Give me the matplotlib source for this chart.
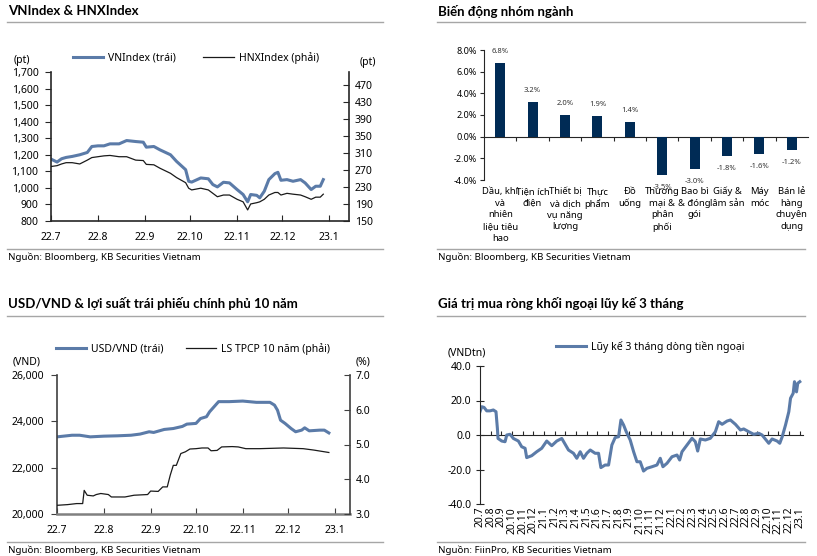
import pandas as pd
import matplotlib.pyplot as plt
from matplotlib.lines import Line2D

plt.rcParams['font.family'] = ['Noto Sans', 'DejaVu Sans']

W, H = 817, 556
BLUE = '#5b7ba8'
NAVY = '#002b55'
RULE = '#a6a6a6'

# ---- VNIndex & HNXIndex ----
idx_dates = ['2022-07-01', '2022-07-05', '2022-07-08', '2022-07-11', '2022-07-15', '2022-07-20',
             '2022-07-25', '2022-07-28', '2022-08-01', '2022-08-05', '2022-08-09', '2022-08-15',
             '2022-08-20', '2022-08-26', '2022-08-31', '2022-09-02', '2022-09-07', '2022-09-11',
             '2022-09-18', '2022-09-22', '2022-09-28', '2022-09-30', '2022-10-02', '2022-10-08',
             '2022-10-13', '2022-10-16', '2022-10-19', '2022-10-23', '2022-10-27', '2022-11-01',
             '2022-11-05', '2022-11-08', '2022-11-10', '2022-11-14', '2022-11-16', '2022-11-19',
             '2022-11-22', '2022-11-26', '2022-11-28', '2022-11-30', '2022-12-04', '2022-12-08',
             '2022-12-13', '2022-12-16', '2022-12-20', '2022-12-23', '2022-12-26', '2022-12-28']
vnindex = [1174, 1156, 1176, 1184, 1190, 1200, 1214, 1250, 1254, 1254, 1266, 1266,
           1286, 1280, 1276, 1246, 1250, 1230, 1200, 1160, 1110, 1040, 1035, 1060,
           1055, 1020, 1006, 1034, 1030, 990, 960, 916, 960, 955, 940, 980,
           1050, 1086, 1094, 1046, 1050, 1040, 1050, 1030, 990, 1010, 1010, 1050]
hnxindex = [278, 280, 284, 287, 287, 284, 293, 299, 301, 303, 304, 301,
            301, 293, 292, 283, 282, 274, 262, 252, 240, 227, 223, 227,
            223, 215, 207, 211, 211, 201, 195, 176, 190, 193, 195, 201,
            211, 217, 217, 211, 215, 213, 211, 207, 201, 206, 206, 213]
month_ticks = ['2022-07-01', '2022-08-01', '2022-09-01', '2022-10-01',
               '2022-11-01', '2022-12-01', '2023-01-01']
month_labels = ['22.7', '22.8', '22.9', '22.10', '22.11', '22.12', '23.1']

# ---- sector performance ----
sectors = ['Dầu, khí\nvà\nnhiên\nliệu tiêu\nhao', 'Tiện ích\nđiện', 'Thiết bị\nvà dịch\nvụ năng\nlượng',
           'Thực\nphẩm', 'Đồ\nuống', 'Thương\nmại &\nphân\nphối', 'Bao bì\n& đóng\ngói',
           'Giấy &\nlâm sản', 'Máy\nmóc', 'Bán lẻ\nhàng\nchuyên\ndụng']
sector_chg = [6.8, 3.2, 2.0, 1.9, 1.4, -3.5, -3.0, -1.8, -1.6, -1.2]

# ---- USD/VND & 10y bond yield ----
fx_dates = ['2022-07-01', '2022-07-11', '2022-07-16', '2022-07-23', '2022-08-01', '2022-08-10',
            '2022-08-19', '2022-08-25', '2022-08-31', '2022-09-03', '2022-09-10', '2022-09-16',
            '2022-09-22', '2022-09-25', '2022-10-01', '2022-10-04', '2022-10-08', '2022-10-10',
            '2022-10-13', '2022-10-16', '2022-10-23', '2022-11-01', '2022-11-10', '2022-11-19',
            '2022-11-22', '2022-11-24', '2022-11-26', '2022-11-29', '2022-12-03', '2022-12-06',
            '2022-12-10', '2022-12-12', '2022-12-15', '2022-12-22', '2022-12-25', '2022-12-28']
usdvnd = [23330, 23400, 23400, 23330, 23360, 23375, 23400, 23450, 23550, 23520, 23650, 23690,
          23780, 23880, 23910, 24120, 24200, 24410, 24630, 24850, 24850, 24875, 24820, 24820,
          24700, 24480, 24050, 23910, 23690, 23550, 23620, 23720, 23590, 23620, 23620, 23500]
bond_dates = ['2022-07-01', '2022-07-08', '2022-07-14', '2022-07-18', '2022-07-19', '2022-07-21',
              '2022-07-25', '2022-07-27', '2022-07-30', '2022-08-04', '2022-08-06', '2022-08-15',
              '2022-08-21', '2022-08-30', '2022-09-01', '2022-09-06', '2022-09-09', '2022-09-12',
              '2022-09-14', '2022-09-16', '2022-09-18', '2022-09-21', '2022-09-24', '2022-09-27',
              '2022-10-01', '2022-10-05', '2022-10-09', '2022-10-11', '2022-10-15', '2022-10-18',
              '2022-10-25', '2022-10-29', '2022-11-03', '2022-11-12', '2022-11-28', '2022-12-11',
              '2022-12-18', '2022-12-28']
bond10y = [3.25, 3.27, 3.30, 3.30, 3.68, 3.54, 3.52, 3.56, 3.59, 3.56, 3.49, 3.49,
           3.54, 3.56, 3.66, 3.65, 3.78, 3.78, 4.12, 4.40, 4.40, 4.74, 4.79, 4.87,
           4.88, 4.90, 4.90, 4.82, 4.83, 4.93, 4.94, 4.93, 4.88, 4.88, 4.90, 4.88,
           4.84, 4.77]

# ---- foreign net buying, 3-month rolling (months since 2020.7) ----
flow_month = [0, 0.16, 0.38, 0.63, 0.94, 1.25, 1.50, 1.63, 1.69, 2.04,
              2.35, 2.51, 2.82, 3.13, 3.60, 3.91, 4.23, 4.38, 4.85, 5.32,
              5.79, 6.26, 6.73, 7.20, 7.67, 7.99, 8.30, 8.77, 9.08, 9.40,
              9.71, 10.02, 10.34, 10.80, 11.12, 11.34, 11.74, 12.06, 12.37, 12.68,
              13.00, 13.22, 13.47, 13.72, 14.09, 14.41, 14.72, 15.03, 15.34, 15.66,
              16.13, 16.60, 16.91, 17.16, 17.54, 18.01, 18.48, 18.73, 18.95, 19.42,
              19.89, 20.20, 20.42, 20.67, 21.14, 21.61, 22.08, 22.39, 22.71, 23.18,
              23.49, 23.96, 24.43, 24.74, 25.21, 25.68, 26.15, 26.46, 27.09, 27.40,
              27.87, 28.12, 28.35, 28.66, 28.97, 29.13, 29.38, 29.50, 29.69, 29.81,
              30.00]
flow_3m = [13.5, 16.4, 16, 14, 14, 14.5, 13.5, 3.9, -2, -3.5,
           -3.9, 0, 0.4, -2, -3.5, -6.8, -7.7, -13.1, -12, -9.7,
           -7.7, -3.5, -6.2, -3.5, -2, -5.4, -8.7, -10.6, -13.5, -9.7,
           -13.5, -10.6, -8.7, -10.6, -10.6, -18.9, -17.4, -17.4, -5.8, -1.5,
           -1, 8.7, 5.8, 1.9, -2.9, -9.7, -15.5, -15.5, -20.9, -19.3,
           -18.4, -17.4, -13.5, -18.4, -16.4, -12.6, -11.6, -14.5, -9.7, -5.8,
           -1.9, -3.9, -9.3, -2.3, -2.9, -1.9, 1.9, 7.7, 6.2, 8.1,
           8.7, 6.2, 2.9, 3.5, 1.9, 0.4, 1, 0, -4.8, -2.3,
           -3.5, -4.8, -1, 5.8, 13.5, 21.3, 24.2, 30.9, 25, 30,
           30.9]
flow_labels = ['20.7', '20.8', '20.9', '20.10', '20.11', '20.12', '21.1', '21.2', '21.3', '21.4',
               '21.5', '21.6', '21.7', '21.8', '21.9', '21.10', '21.11', '21.12', '22.1', '22.2',
               '22.3', '22.4', '22.5', '22.6', '22.7', '22.8', '22.9', '22.10', '22.11', '22.12',
               '23.1']

fig = plt.figure(figsize=(W / 100, H / 100), dpi=100)


def box(l, t, r, b):
    return [l / W, 1 - b / H, (r - l) / W, (b - t) / H]


def fx(x):
    return x / W


def fy(y):
    return 1 - y / H


def frame(x0, x1, y_title, title, y_rule, y_src, source):
    fig.text(fx(x0 + 1), fy(y_title), title, fontsize=9.5, fontweight='bold', va='center',
             family=['Lato', 'DejaVu Sans'])
    fig.add_artist(Line2D([fx(x0), fx(x1)], [fy(y_rule)] * 2, color=RULE, lw=1))
    fig.add_artist(Line2D([fx(x0), fx(x1)], [fy(y_src)] * 2, color=RULE, lw=1))
    fig.text(fx(x0 + 1), fy(y_src + 8), source, fontsize=7, va='center')


def legend(handles, labels, x, y, gap):
    fig.legend(handles, labels, loc='center left', bbox_to_anchor=(fx(x), fy(y)), ncol=len(handles),
               frameon=False, fontsize=7.5, handlelength=2.9, handletextpad=0.5,
               columnspacing=gap, borderpad=0, borderaxespad=0)


frame(7, 383, 11, 'VNIndex & HNXIndex', 22, 249, 'Nguồn: Bloomberg, KB Securities Vietnam')
frame(437, 805, 11, 'Biến động nhóm ngành', 22, 249, 'Nguồn: Bloomberg, KB Securities Vietnam')
frame(7, 383, 303, 'USD/VND & lợi suất trái phiếu chính phủ 10 năm', 316, 542,
      'Nguồn: Bloomberg, KB Securities Vietnam')
frame(437, 805, 303, 'Giá trị mua ròng khối ngoại lũy kế 3 tháng', 316, 542,
      'Nguồn: FiinPro, KB Securities Vietnam')


def style_dual(ax, ax2, color):
    for a in (ax, ax2):
        for s in a.spines.values():
            s.set_visible(False)
    ax.spines['left'].set_visible(True)
    ax.spines['bottom'].set_visible(True)
    ax2.spines['right'].set_visible(True)
    for s in (ax.spines['left'], ax.spines['bottom'], ax2.spines['right']):
        s.set_color(color)
        s.set_linewidth(1.2)
    ax.tick_params(axis='y', direction='out', length=4, pad=5, labelsize=7.5, color=color)
    ax.tick_params(axis='x', direction='in', length=4, pad=8, labelsize=7.5, color=color)
    ax2.tick_params(axis='y', direction='in', length=4, pad=4, labelsize=7.5, color=color)
    ax.set_xticks(pd.to_datetime(month_ticks), month_labels)


# ---- panel 1 ----
ax = fig.add_axes(box(51, 72, 349, 221))
ax2 = ax.twinx()
ax.plot(pd.to_datetime(idx_dates), vnindex, color=BLUE, lw=2.2)
ax2.plot(pd.to_datetime(idx_dates), hnxindex, color='#1a1a1a', lw=0.9)
ax.set_xlim(pd.Timestamp('2022-07-01'), pd.Timestamp('2023-01-14'))
ax.set_ylim(800, 1700)
ax.set_yticks(range(800, 1701, 100), [f'{v:,}' for v in range(800, 1701, 100)])
ax2.set_ylim(150, 500)
ax2.set_yticks(range(150, 471, 40))
style_dual(ax, ax2, '#262626')
fig.text(fx(22), fy(61), '(pt)', fontsize=7.5, ha='center', va='center')
fig.text(fx(368), fy(62), '(pt)', fontsize=7.5, ha='center', va='center')
legend([Line2D([], [], color=BLUE, lw=2.2), Line2D([], [], color='#1a1a1a', lw=0.9)],
       ['VNIndex (trái)', 'HNXIndex (phải)'], 73, 58, 2.6)

# ---- panel 2 ----
ax = fig.add_axes(box(484, 50, 808, 180))
ax.bar(range(len(sectors)), sector_chg, width=0.31, color=NAVY)
for i, v in enumerate(sector_chg):
    ax.annotate(f'{v:.1f}%', (i, v), xytext=(0, 8 if v > 0 else -9), textcoords='offset points',
                ha='center', va='center', fontsize=5.5, color='#333333')
ax.set_xlim(-0.5, len(sectors) - 0.5)
ax.set_ylim(-4, 8)
ax.set_yticks(range(-4, 9, 2), [f'{v:.1f}%' for v in range(-4, 9, 2)])
for s in ('top', 'right', 'bottom'):
    ax.spines[s].set_visible(False)
ax.spines['left'].set_color('#262626')
ax.tick_params(axis='y', direction='out', length=3, pad=2, labelsize=6.5, color='#262626')
ax.set_xticks(range(len(sectors)), sectors)
ax.tick_params(axis='x', length=0, pad=5, labelsize=6.8)
for lab in ax.get_xticklabels():
    lab.set_va('top')
    lab.set_linespacing(1.38)
zero = ax.secondary_xaxis(4 / 12)
zero.set_xticks([i + 0.5 for i in range(len(sectors) - 1)], [])
zero.spines['bottom'].set_color('#262626')
zero.tick_params(direction='out', length=3, color='#262626')

# ---- panel 3 ----
ax = fig.add_axes(box(57, 375, 350, 514))
ax2 = ax.twinx()
ax.plot(pd.to_datetime(fx_dates), usdvnd, color=BLUE, lw=2.2)
ax2.plot(pd.to_datetime(bond_dates), bond10y, color='#1a1a1a', lw=0.9)
ax.set_xlim(pd.Timestamp('2022-07-01'), pd.Timestamp('2023-01-11'))
ax.set_ylim(20000, 26000)
ax.set_yticks(range(20000, 26001, 2000), [f'{v:,}' for v in range(20000, 26001, 2000)])
ax2.set_ylim(3, 7)
ax2.set_yticks([3, 4, 5, 6, 7], ['3.0', '4.0', '5.0', '6.0', '7.0'])
style_dual(ax, ax2, '#404040')
ax.spines['bottom'].set_color('#808080')
ax.spines['bottom'].set_linewidth(1.8)
fig.text(fx(27), fy(362), '(VND)', fontsize=7.5, ha='center', va='center')
fig.text(fx(363), fy(362), '(%)', fontsize=7.5, ha='center', va='center')
legend([Line2D([], [], color=BLUE, lw=2.2), Line2D([], [], color='#1a1a1a', lw=0.9)],
       ['USD/VND (trái)', 'LS TPCP 10 năm (phải)'], 56, 349, 2.1)

# ---- panel 4 ----
ax = fig.add_axes(box(480, 366, 803, 504))
ax.plot(flow_month, flow_3m, color=BLUE, lw=2.2)
ax.set_xlim(0, 30.3)
ax.set_ylim(-40, 40)
ax.set_yticks(range(-40, 41, 20), [f'{v:.1f}' for v in range(-40, 41, 20)])
for s in ('top', 'right', 'bottom'):
    ax.spines[s].set_visible(False)
ax.spines['left'].set_color('#262626')
ax.tick_params(axis='y', direction='inout', length=6, pad=3, labelsize=7.5, color='#262626')
ax.set_xticks(range(len(flow_labels)), flow_labels, rotation=90)
ax.tick_params(axis='x', length=0, pad=2, labelsize=7.5)
zero = ax.secondary_xaxis(0.5)
zero.set_xticks(range(1, len(flow_labels)), [])
zero.spines['top'].set_color('#262626')
zero.tick_params(direction='out', length=3, color='#262626')
fig.text(fx(467), fy(353), '(VNDtn)', fontsize=7.5, ha='center', va='center')
legend([Line2D([], [], color=BLUE, lw=2.2)], ['Lũy kế 3 tháng dòng tiền ngoại'], 556, 347, 2)

fig.savefig('out.png', dpi=100)
